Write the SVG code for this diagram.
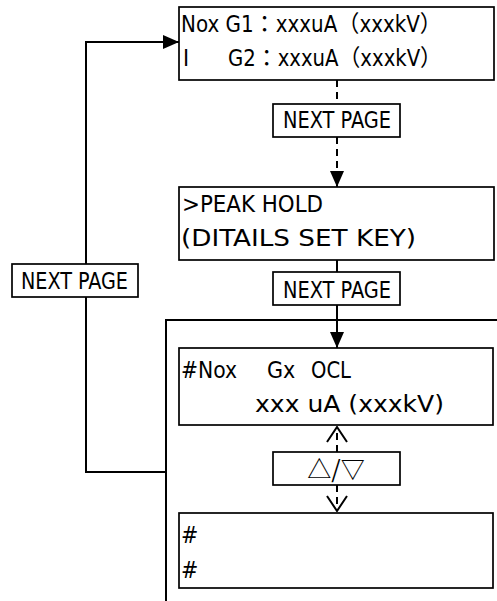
<svg xmlns="http://www.w3.org/2000/svg" width="497" height="601" viewBox="0 0 497 601">
<style>
.box{fill:#fff;stroke:#000;stroke-width:1.7}
.ln{fill:none;stroke:#000;stroke-width:2}
.dash{stroke-dasharray:7 5}
.t{font-family:"DejaVu Sans Condensed","Liberation Sans","Noto Sans CJK JP",sans-serif;font-size:23px;fill:#000}
.cjk{font-family:"Noto Sans CJK JP","Liberation Sans",sans-serif;font-size:24px;fill:#000}
</style>
<defs>
<marker id="fa" viewBox="0 0 16 14" refX="16" refY="7" markerWidth="16" markerHeight="14" markerUnits="userSpaceOnUse" orient="auto">
<path d="M0,0 L16,7 L0,14 z" fill="#000"/>
</marker>
<marker id="oa" viewBox="-1 -1 17 22" refX="15" refY="10" markerWidth="17" markerHeight="22" markerUnits="userSpaceOnUse" orient="auto">
<path d="M0,0 L15,10 L0,20" fill="none" stroke="#000" stroke-width="2" stroke-dasharray="none"/>
</marker>
</defs>
<rect width="497" height="601" fill="#fff"/>
<g id="connectors">
<path class="ln" d="M497,320 H166 V601"/>
<path class="ln" d="M166,472 H86 V42 H179" marker-end="url(#fa)"/>
<path class="ln dash" d="M337,80 V104"/>
<path class="ln dash" d="M337,137 V187" marker-end="url(#fa)"/>
<path class="ln" d="M337,260 V272"/>
<path class="ln" d="M337,305 V348" marker-end="url(#fa)"/>
<path class="ln dash" d="M337,452 V427" marker-end="url(#oa)"/>
<path class="ln dash" d="M337,485 V511" marker-end="url(#oa)"/>
</g>
<g id="screen1">
<rect class="box" x="179" y="7" width="315" height="73"/>
<text class="t" x="181" y="32" textLength="261" lengthAdjust="spacingAndGlyphs">Nox G1：xxxuA（xxxkV）</text>
<text class="t" y="66"><tspan x="183">I</tspan><tspan x="228" textLength="214" lengthAdjust="spacingAndGlyphs">G2：xxxuA（xxxkV）</tspan></text>
</g>
<g id="next1">
<rect class="box" x="273" y="104" width="127" height="33"/>
<text class="t" x="283" y="128" textLength="108" lengthAdjust="spacingAndGlyphs">NEXT PAGE</text>
</g>
<g id="screen2">
<rect class="box" x="179" y="187" width="315" height="73"/>
<text class="t" x="182" y="212" textLength="141" lengthAdjust="spacingAndGlyphs">&gt;PEAK HOLD</text>
<text class="t" x="181" y="246" textLength="235" lengthAdjust="spacingAndGlyphs">(DITAILS SET KEY)</text>
</g>
<g id="next2">
<rect class="box" x="273" y="272" width="127" height="33"/>
<text class="t" x="283" y="298" textLength="108" lengthAdjust="spacingAndGlyphs">NEXT PAGE</text>
</g>
<g id="nextLeft">
<rect class="box" x="12" y="264" width="126" height="33"/>
<text class="t" x="21" y="289" textLength="107" lengthAdjust="spacingAndGlyphs">NEXT PAGE</text>
</g>
<g id="screen3">
<rect class="box" x="179" y="348" width="314" height="77"/>
<text class="t" y="378"><tspan x="181" textLength="56" lengthAdjust="spacingAndGlyphs">#Nox</tspan><tspan x="267">Gx</tspan><tspan x="311" textLength="40" lengthAdjust="spacingAndGlyphs">OCL</tspan></text>
<text class="t" x="255" y="412" textLength="189" lengthAdjust="spacingAndGlyphs">xxx uA (xxxkV)</text>
</g>
<g id="updown">
<rect class="box" x="273" y="452" width="127" height="33"/>
<text class="cjk" x="336" y="478" text-anchor="middle">△/▽</text>
</g>
<g id="screen4">
<rect class="box" x="179" y="513" width="314" height="75"/>
<text class="t" x="181" y="543">#</text>
<text class="t" x="181" y="578">#</text>
</g>
</svg>
